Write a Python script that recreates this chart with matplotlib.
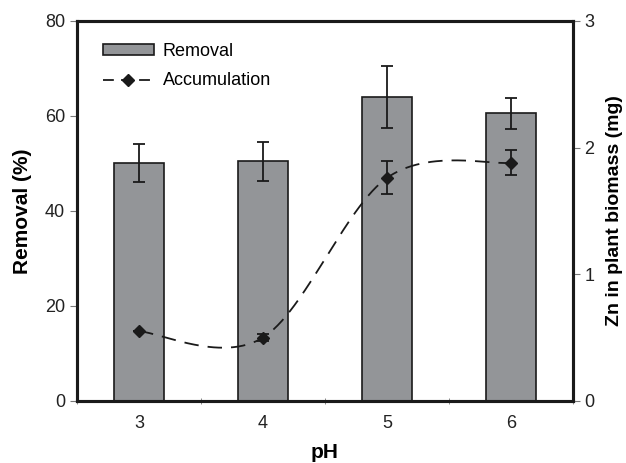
import numpy as np
import matplotlib
matplotlib.use("Agg")
import matplotlib.pyplot as plt
from matplotlib.lines import Line2D
from matplotlib.patches import Patch

plt.rcParams['font.family'] = ['Liberation Sans', 'DejaVu Sans']

ph = [3, 4, 5, 6]
removal = [50.1, 50.4, 64.0, 60.5]
removal_err = [4.0, 4.2, 6.5, 3.2]
accum = [0.55, 0.50, 1.76, 1.88]
accum_err = [0.0, 0.03, 0.13, 0.10]


def smooth(xs, ys, n=60):
    # excel style smoothed line (catmull-rom bezier)
    pts = np.column_stack([xs, ys]).astype(float)
    out = []
    for i in range(len(pts) - 1):
        p0 = pts[max(i - 1, 0)]
        p1 = pts[i]
        p2 = pts[i + 1]
        p3 = pts[min(i + 2, len(pts) - 1)]
        c1 = p1 + (p2 - p0) / 6
        c2 = p2 - (p3 - p1) / 6
        t = np.linspace(0, 1, n)[:, None]
        seg = ((1 - t) ** 3 * p1 + 3 * (1 - t) ** 2 * t * c1
               + 3 * (1 - t) * t ** 2 * c2 + t ** 3 * p2)
        out.append(seg)
    out = np.vstack(out)
    return out[:, 0], out[:, 1]


fig = plt.figure(figsize=(6.26, 4.63), dpi=100)
ax = fig.add_axes([0.123, 0.134, 0.792, 0.821])

ax.bar(ph, removal, width=0.4, color='#939598', edgecolor='#1a1a1a',
       linewidth=1.2, zorder=2)
ax.errorbar(ph, removal, yerr=removal_err, fmt='none', ecolor='#1a1a1a',
            elinewidth=1.3, capsize=4, capthick=1.3, zorder=3)

ax.set_xlim(2.5, 6.5)
ax.set_ylim(0, 80)
ax.set_yticks([0, 20, 40, 60, 80])
ax.set_xticks(ph)
ax.set_xticks([2.5, 3.5, 4.5, 5.5, 6.5], minor=True)
ax.tick_params(axis='x', which='major', length=0, pad=10)
ax.tick_params(axis='x', which='minor', length=5, direction='inout',
               color='#777777')
ax.tick_params(axis='y', length=5, direction='out', color='#777777')
ax.tick_params(labelsize=13, labelcolor='#222222')
ax.set_xlabel('pH', fontsize=15, fontweight='bold', labelpad=8)
ax.set_ylabel('Removal (%)', fontsize=15, fontweight='bold', labelpad=9)

ax2 = ax.twinx()
ax2.set_ylim(0, 3)
ax2.set_yticks([0, 1, 2, 3])
ax2.tick_params(axis='y', length=5, direction='out', color='#777777',
                labelsize=13, labelcolor='#222222')
ax2.set_ylabel('Zn in plant biomass (mg)', fontsize=14, fontweight='bold',
               labelpad=8)

sx, sy = smooth(ph, accum)
ax2.plot(sx, sy, color='#1a1a1a', lw=1.3, dashes=(8, 5), zorder=4)
ax2.errorbar(ph, accum, yerr=accum_err, fmt='none', ecolor='#1a1a1a',
             elinewidth=1.3, capsize=4, capthick=1.3, zorder=5)
ax2.plot(ph, accum, ls='none', marker='D', ms=6, color='#1a1a1a', zorder=6)

for a in (ax, ax2):
    for s in a.spines.values():
        s.set_linewidth(2.2)
        s.set_color('#1a1a1a')

handles = [Patch(facecolor='#939598', edgecolor='#1a1a1a', linewidth=1.2),
           Line2D([], [], color='#1a1a1a', lw=1.3, dashes=(6, 4),
                  marker='D', ms=6)]
ax.legend(handles, ['Removal', 'Accumulation'], loc='upper left',
          bbox_to_anchor=(0.02, 0.985), frameon=False, fontsize=13,
          handlelength=2.8, handleheight=0.5, labelspacing=0.7,
          handletextpad=0.5)

fig.savefig('out.png', dpi=100)
